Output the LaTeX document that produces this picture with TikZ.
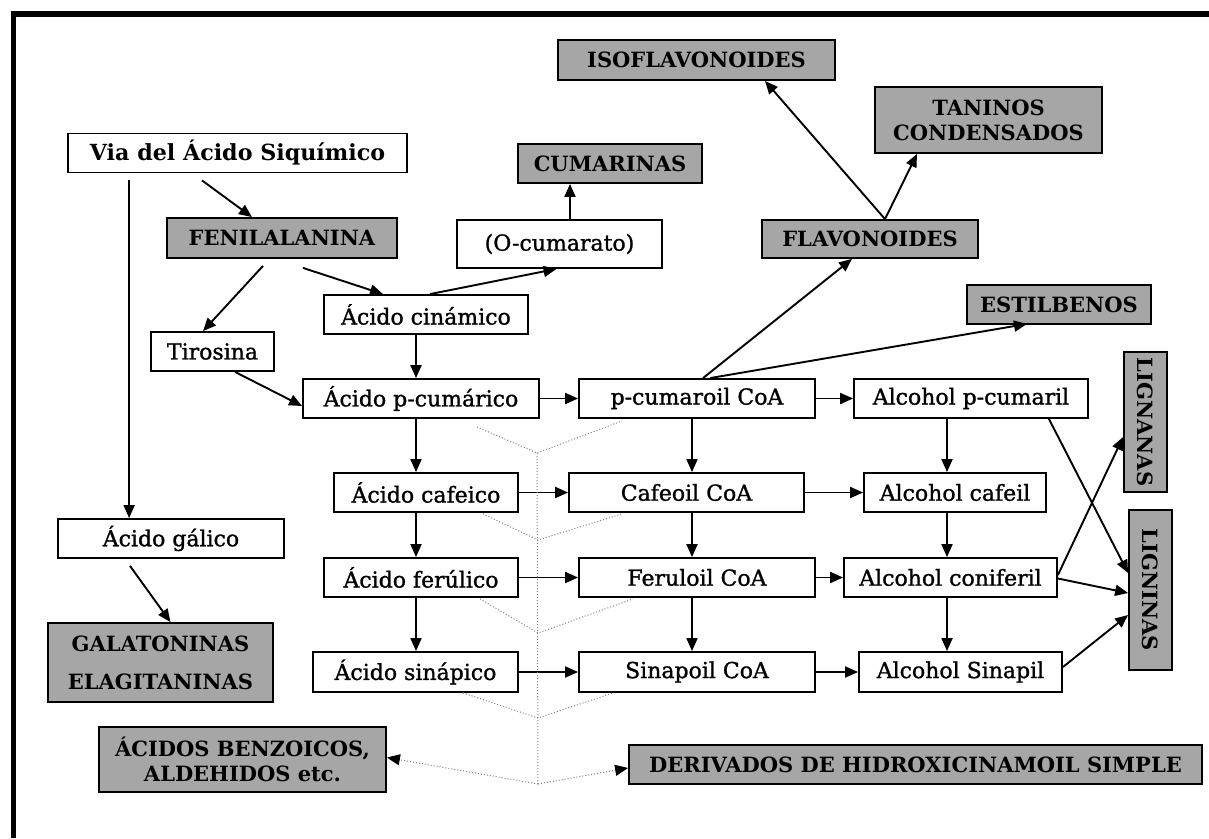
\documentclass[tikz,border=0pt]{standalone}
\usepackage{fontspec}
\setmainfont{DejaVu Serif}
\newfontfamily\heavyserif[FakeBold=1.2]{DejaVu Serif}
\usetikzlibrary{arrows.meta,calc}
\definecolor{shade}{RGB}{166,166,166}

\begin{document}
\begin{tikzpicture}[x=1pt,y=-1pt,
  every node/.style={inner sep=0pt},
  txt/.style={font=\heavyserif\fontsize{22}{26}\selectfont},
  box/.style={txt, draw, line width=1.8pt, fill=white, minimum height=39pt, align=center},
  grp/.style={draw, line width=1.8pt, fill=shade, align=center,
              font=\fontsize{21}{25}\selectfont\bfseries},
  arr/.style={line width=1.9pt, -{Triangle[length=13pt,width=11pt]}},
  guide/.style={draw=gray, dotted, line width=1pt},
  guidearr/.style={guide, -{Triangle[length=13pt,width=11pt,color=black,fill=black]}}]

\useasboundingbox (0,0) rectangle (1209,838);

% outer frame
\draw[line width=5.5pt] (13.5,838) -- (13.5,14) -- (1209,14);

% column coordinates
\coordinate (colA) at (416,0);
\coordinate (colB) at (692,0);
\coordinate (colC) at (947,0);

% top part
\node[box, minimum width=339pt, font=\fontsize{22.2}{26}\selectfont\bfseries] (via) at (237.5,153) {Via del Ácido Siquímico};
\node[grp, minimum width=230pt, minimum height=40pt] (fen) at (282,238) {FENILALANINA};
\node[box, minimum width=226pt] (gal) at (171,538.5) {Ácido gálico};
\node[grp, minimum width=225pt, minimum height=79pt] (gala) at (160.5,662.5) {GALATONINAS\\[13pt]ELAGITANINAS};
\node[grp, minimum width=287pt, minimum height=65pt] (benz) at (242.5,759.5) {ÁCIDOS BENZOICOS,\\ALDEHIDOS etc.};
\node[box, minimum width=123pt] (tir) at (212.5,351.5) {Tirosina};
\node[box, minimum width=204pt] (cin) at (426,314.5) {Ácido cinámico};
\node[box, minimum width=205pt, minimum height=48pt] (ocum) at (559.5,244) {(O-cumarato)};
\node[grp, minimum width=184pt, minimum height=39pt] (cuma) at (610,163.5) {CUMARINAS};
\node[grp, minimum width=277pt, minimum height=40pt] (iso) at (696.5,60) {ISOFLAVONOIDES};
\node[grp, minimum width=227pt, minimum height=66pt] (tan) at (988.5,120) {TANINOS\\CONDENSADOS};
\node[grp, minimum width=216pt, minimum height=38pt] (flav) at (870,239) {FLAVONOIDES};
\node[grp, minimum width=184pt, minimum height=39pt] (est) at (1059,304.5) {ESTILBENOS};

% grid of acids, CoA esters and alcohols
\node[box, minimum width=236pt] (pcum) at (421,398.5) {Ácido p-cumárico};
\node[box, minimum width=236pt] (pcoa) at (697,398.5) {p-cumaroil CoA};
\node[box, minimum width=234pt] (apc) at (971,398.5) {Alcohol p-cumaril};
\node[box, minimum width=184pt] (caf) at (426,492.5) {Ácido cafeico};
\node[box, minimum width=235pt] (cfcoa) at (686.5,492.5) {Cafeoil CoA};
\node[box, minimum width=182pt] (acaf) at (955,492.5) {Alcohol cafeil};
\node[box, minimum width=194pt] (fer) at (421,577.5) {Ácido ferúlico};
\node[box, minimum width=236pt] (fcoa) at (697,577.5) {Feruloil CoA};
\node[box, minimum width=213pt] (acon) at (950.5,577.5) {Alcohol coniferil};
\node[box, minimum width=205pt, minimum height=40pt] (sin) at (415.5,672) {Ácido sinápico};
\node[box, minimum width=236pt, minimum height=40pt] (scoa) at (697,672) {Sinapoil CoA};
\node[box, minimum width=203pt, minimum height=40pt] (asin) at (960.5,672) {Alcohol Sinapil};

% end products on the right
\node[grp, rotate=-90, minimum width=140pt, minimum height=43pt] (lignanas) at (1145.5,422) {LIGNANAS};
\node[grp, rotate=-90, minimum width=160pt, minimum height=43pt] (ligninas) at (1150.5,590) {LIGNINAS};
\node[grp, minimum width=573pt, minimum height=39pt] (deriv) at (915.5,764.5) {DERIVADOS DE HIDROXICINAMOIL SIMPLE};

% connectors: upper part
\draw[arr] ([xshift=-35.5pt,yshift=-7pt]via.south) -- ([xshift=-30pt]fen.north);
\draw[arr] ([xshift=62pt,yshift=-7pt]via.south west) coordinate (vg) -- (vg |- gal.north);
\draw[arr] ([xshift=-41pt,yshift=-7pt]gal.south) -- ([xshift=10pt]gala.north);
\draw[arr] ([xshift=-19pt,yshift=-7pt]fen.south) -- ([xshift=-9.5pt]tir.north);
\draw[arr] ([xshift=21pt,yshift=-9pt]fen.south) -- ([xshift=-43pt]cin.north);
\draw[arr] ([xshift=22.5pt]tir.south) -- ([yshift=-7.5pt]pcum.west);
\draw[arr] (cin.south -| colA) -- (pcum.north -| colA);
\draw[arr] ([xshift=4pt]cin.north) -- ([xshift=-3pt]ocum.south);
\draw[arr] ([xshift=10.5pt]ocum.north) coordinate (oc) -- (oc |- cuma.south);
\draw[arr] ([xshift=6pt]pcoa.north) -- ([xshift=-18pt]flav.south);
\draw[arr] ([xshift=13pt]pcoa.north) -- ([xshift=-32pt,yshift=1pt]est.south);
\draw[arr] ([xshift=15pt]flav.north) -- ([xshift=68.5pt]iso.south);
\draw[arr] ([xshift=15pt]flav.north) -- ([xshift=-71.5pt]tan.south);

% vertical steps in each column
\draw[arr] (pcum.south -| colA) -- (caf.north -| colA);
\draw[arr] (caf.south -| colA) -- (fer.north -| colA);
\draw[arr] (fer.south -| colA) -- (sin.north -| colA);
\draw[arr] (pcoa.south -| colB) -- (cfcoa.north -| colB);
\draw[arr] (cfcoa.south -| colB) -- (fcoa.north -| colB);
\draw[arr] (fcoa.south -| colB) -- (scoa.north -| colB);
\draw[arr] (apc.south -| colC) -- (acaf.north -| colC);
\draw[arr] (acaf.south -| colC) -- (acon.north -| colC);
\draw[arr] (acon.south -| colC) -- (asin.north -| colC);

% horizontal steps in each row
\draw[arr] (pcum.east) -- (pcoa.west);
\draw[arr] (pcoa.east) -- (apc.west);
\draw[arr] (caf.east) -- (cfcoa.west);
\draw[arr] (cfcoa.east) -- (acaf.west);
\draw[arr] (fer.east) -- (fcoa.west);
\draw[arr] (fcoa.east) -- (acon.west);
\draw[arr] (sin.east) -- (scoa.west);
\draw[arr] (scoa.east) -- (asin.west);

% alcohols to lignans and lignins
\draw[arr] ([xshift=-40pt]apc.south east) -- ([yshift=17pt]ligninas.south);
\draw[arr] ([yshift=2.5pt]acon.east) -- ([yshift=-15pt]lignanas.south);
\draw[arr] ([yshift=-1pt]acon.east) -- ([yshift=-3pt]ligninas.south);
\draw[arr] ([yshift=5pt]asin.east) -- ([yshift=-25pt]ligninas.south);

% dotted collection lines
\coordinate (a1) at (537,453);
\coordinate (a2) at (538,540);
\coordinate (a3) at (538,633);
\coordinate (a4) at (538,718);
\coordinate (a5) at (538,784);
\draw[guide] (a1) -- (a5);
\draw[guide] ([xshift=56pt,yshift=-8pt]pcum.south) -- (a1) -- ([xshift=-75pt,yshift=-2pt]pcoa.south);
\draw[guide] ([xshift=57pt,yshift=-1pt]caf.south) -- (a2) -- ([xshift=-64.5pt,yshift=-1pt]cfcoa.south);
\draw[guide] ([xshift=59pt,yshift=-1pt]fer.south) -- (a3) -- ([xshift=-64pt,yshift=-1pt]fcoa.south);
\draw[guide] ([xshift=47.5pt]sin.south) -- (a4) -- ([xshift=-84pt]scoa.south);
\draw[guidearr] (a5) -- ([yshift=2pt]benz.east);
\draw[guidearr] (a5) -- ([yshift=-3.5pt]deriv.west);

\end{tikzpicture}
\end{document}
